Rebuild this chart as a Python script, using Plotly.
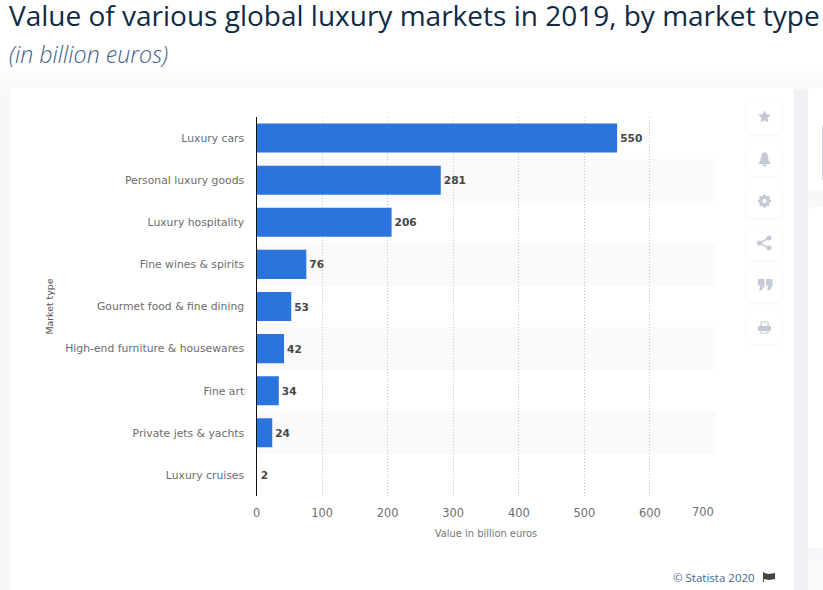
import math
import plotly.graph_objects as go

categories = ["Luxury cars", "Personal luxury goods", "Luxury hospitality", "Fine wines & spirits",
              "Gourmet food & fine dining", "High-end furniture & housewares", "Fine art",
              "Private jets & yachts", "Luxury cruises"]
values = [550, 281, 206, 76, 53, 42, 34, 24, 2]
x_ticks = [0, 100, 200, 300, 400, 500, 600, 700]
x_tick_labels = ["0", "100", "200", "300", "400", "500", "600", ""]
band_rows = [1, 3, 5, 7]

W, H = 823, 590
PLOT_L, PLOT_R, PLOT_T, PLOT_B = 256.5, 715.5, 117, 496
ICON = "#c3cad6"
FONT = "DejaVu Sans"
BAR = "#2a75dd"


def X(v):
    return v / W


def Y(v):
    return 1 - v / H


def rrect(x0, y0, x1, y1, r):
    return (f"M{X(x0+r)},{Y(y0)} L{X(x1-r)},{Y(y0)} Q{X(x1)},{Y(y0)} {X(x1)},{Y(y0+r)} "
            f"L{X(x1)},{Y(y1-r)} Q{X(x1)},{Y(y1)} {X(x1-r)},{Y(y1)} "
            f"L{X(x0+r)},{Y(y1)} Q{X(x0)},{Y(y1)} {X(x0)},{Y(y1-r)} "
            f"L{X(x0)},{Y(y0+r)} Q{X(x0)},{Y(y0)} {X(x0+r)},{Y(y0)} Z")


def poly(points):
    return "M" + " L".join(f"{X(a)},{Y(b)}" for a, b in points) + " Z"


shapes = []


def paper_rect(x0, y0, x1, y1, color, opacity=1):
    shapes.append(dict(type="rect", xref="paper", yref="paper", x0=X(x0), x1=X(x1), y0=Y(y0), y1=Y(y1),
                       fillcolor=color, opacity=opacity, line_width=0, layer="below"))


def paper_path(d, color, opacity=1):
    shapes.append(dict(type="path", xref="paper", yref="paper", path=d, fillcolor=color, opacity=opacity,
                       line_width=0, layer="below"))


def outline(d, color, width):
    shapes.append(dict(type="path", xref="paper", yref="paper", path=d, line=dict(color=color, width=width),
                       layer="below"))


# page shading: white at the top, pale grey-blue below the title
for i, c in enumerate(["#fdfdfe", "#fbfcfd", "#f9fafb", "#f8f9fb"]):
    paper_rect(0, 70 + i * 5, W, 90 if i == 3 else 75 + i * 5, c)
paper_rect(0, 90, W, H, "#f7f8fa")
paper_rect(794, 90, 808, H, "#eff1f5")
for i, c in enumerate(["#f5f6f9", "#f9fafb"]):
    paper_rect(808, 548 + i * 12, W, 560 + i * 12 if i == 0 else H, c)

# cards
for d in [rrect(10, 87, 794, 600, 5), rrect(808, 87, 840, 190, 5), rrect(808, 207, 840, 548, 5)]:
    paper_path(d, "#ffffff")
paper_rect(822, 125, 823, 180, "#d5d9df")

# icon buttons
for top in [100, 142, 184, 226, 268, 310]:
    paper_path(rrect(745.5, top - 0.5, 782.5, top + 36, 6), "#eef0f4", 0.35)
    paper_path(rrect(747, top, 781, top + 34, 5), "#ffffff")

# star
paper_path(poly([(764.5, 110), (766.4, 114.2), (771, 114.8), (767.6, 118), (768.5, 122.6), (764.5, 120.3),
                 (760.5, 122.6), (761.4, 118), (758, 114.8), (762.6, 114.2)]), ICON)
# bell
paper_path(f"M{X(758)},{Y(164)} Q{X(761)},{Y(161)} {X(761)},{Y(157)} Q{X(761)},{Y(153)} {X(764.5)},{Y(152)} "
           f"Q{X(768)},{Y(153)} {X(768)},{Y(157)} Q{X(768)},{Y(161)} {X(771)},{Y(164)} Z", ICON)
paper_path(rrect(762.5, 164.5, 766.5, 166.5, 1), ICON)
# gear: toothed outline with a hole
gear_pts = []
for k in range(8):
    mid = k * math.pi / 4
    for off, rad in [(-0.34, 5.0), (-0.2, 6.6), (0.2, 6.6), (0.34, 5.0)]:
        gear_pts.append((764.5 + rad * math.cos(mid + off), 201 + rad * math.sin(mid + off)))
hole = " ".join(("M" if k == 0 else "L") + f"{X(764.5 + 2.2 * math.cos(k * math.pi / 6))},"
                f"{Y(201 + 2.2 * math.sin(k * math.pi / 6))}" for k in range(12)) + " Z"
paper_path(poly(gear_pts) + " " + hole, ICON)
# share
for cx, cy in [(769, 238), (759.5, 243), (769, 248)]:
    shapes.append(dict(type="circle", xref="paper", yref="paper", x0=X(cx - 2.5), x1=X(cx + 2.5),
                       y0=Y(cy - 2.5), y1=Y(cy + 2.5), fillcolor=ICON, line_width=0, layer="below"))
shapes.append(dict(type="path", xref="paper", yref="paper", layer="below", line=dict(color=ICON, width=1.6),
                   path=f"M{X(769)},{Y(238)} L{X(759.5)},{Y(243)} L{X(769)},{Y(248)}"))
# quotes
for off in [0, 8]:
    paper_path(poly([(758 + off, 279), (764.5 + off, 279), (764.5 + off, 286), (761.5 + off, 290.5),
                     (759 + off, 290.5), (760.5 + off, 285.5), (758 + off, 285.5)]), ICON)
# printer
outline(rrect(761, 322, 768, 327, 0.5), ICON, 1.2)
outline(rrect(761, 329, 768, 333, 0.5), ICON, 1.2)
paper_path(rrect(758, 326, 771, 331, 1), ICON)
# flag
paper_rect(763, 572, 764, 582, "#444444")
paper_path(poly([(764, 573), (769, 574), (775, 573), (775, 579), (769, 580), (764, 579)]), "#444444")

# alternating row bands, behind the bars
for row in band_rows:
    shapes.append(dict(type="rect", xref="x", yref="y", x0=0, x1=700, y0=row - 0.5, y1=row + 0.5,
                       fillcolor="#fafafa", line_width=0, layer="below"))

# the reference shows no visible bar for the smallest value, only its label
bar_colors = [BAR if v > 2 else "rgba(0,0,0,0)" for v in values]

fig = go.Figure(go.Bar(
    y=categories, x=values, orientation="h",
    marker=dict(color=bar_colors, line=dict(width=6, color="rgba(0,0,0,0)")),
    text=[str(v) for v in values], textposition="outside", cliponaxis=False,
    textfont=dict(family=FONT, size=10.6, color="#454545", weight="bold"),
    hoverinfo="skip",
))

fig.update_layout(
    width=W, height=H, autosize=False,
    margin=dict(l=0, r=0, t=0, b=0, autoexpand=False), showlegend=False,
    paper_bgcolor="#ffffff", plot_bgcolor="rgba(0,0,0,0)",
    bargap=0.31, shapes=shapes,
    title=dict(text="Value of various global luxury markets in 2019, by market type",
               x=X(9), xref="paper", xanchor="left", y=Y(16), yref="paper", yanchor="middle",
               font=dict(family="Open Sans", size=28, color="#0f2a47", weight=500)),
    annotations=[
        dict(text="<i>(in billion euros)</i>", xref="paper", yref="paper", x=X(7), y=Y(54), xanchor="left",
             yanchor="middle", showarrow=False,
             font=dict(family="Open Sans", size=23.2, color="#3f5f85", weight=300)),
        dict(text="© Statista 2020", xref="paper", yref="paper", x=X(757), y=Y(577), xanchor="right",
             yanchor="middle", showarrow=False, font=dict(family="Open Sans", size=11.5, color="#4a6488")),
        dict(text="700", xref="x", yref="paper", x=700, xshift=-12.5, y=Y(511.5), xanchor="center",
             yanchor="middle", showarrow=False, font=dict(family=FONT, size=11.4, color="#6c6c6c")),
    ],
    xaxis=dict(
        domain=[X(PLOT_L), X(PLOT_R)], range=[0, 700], tickmode="array", tickvals=x_ticks, ticktext=x_tick_labels,
        showgrid=True, gridcolor="#c4c4c4", griddash="1px,2px", gridwidth=1, zeroline=False, showline=False,
        ticks="outside", ticklen=6, tickcolor="rgba(0,0,0,0)", automargin=False,
        tickfont=dict(family=FONT, size=11.4, color="#6c6c6c"),
        title=dict(text="Value in billion euros", standoff=11, font=dict(family=FONT, size=9.9, color="#777777")),
    ),
    yaxis=dict(
        domain=[Y(PLOT_B), Y(PLOT_T)], autorange="reversed", type="category",
        showline=True, linecolor="#111111", linewidth=1.4, showgrid=False, zeroline=False,
        ticks="outside", ticklen=9, tickcolor="rgba(0,0,0,0)", automargin=False,
        tickfont=dict(family=FONT, size=10.8, color="#6c6c6c"),
        title=dict(text="Market type", standoff=9, font=dict(family=FONT, size=9.4, color="#555555")),
    ),
)

fig.write_html("out.html", config=dict(displayModeBar=False),
               post_script="document.body.style.margin='0';document.body.style.overflow='hidden';")
